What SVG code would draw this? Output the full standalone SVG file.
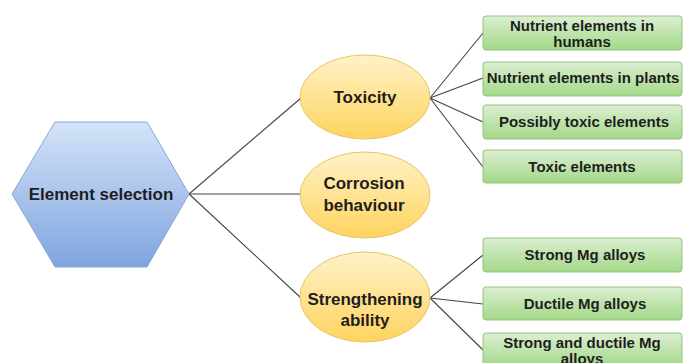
<svg xmlns="http://www.w3.org/2000/svg" width="685" height="363" viewBox="0 0 685 363">
<defs>
<linearGradient id="gHex" x1="0" y1="0" x2="0" y2="1">
<stop offset="0" stop-color="#d4e3f8"/>
<stop offset="1" stop-color="#7fa5df"/>
</linearGradient>
<linearGradient id="gEll" x1="0" y1="0" x2="0" y2="1">
<stop offset="0" stop-color="#fff2c8"/>
<stop offset="1" stop-color="#ffd45e"/>
</linearGradient>
<linearGradient id="gBox" x1="0" y1="0" x2="0" y2="1">
<stop offset="0" stop-color="#dcefd2"/>
<stop offset="1" stop-color="#a3d888"/>
</linearGradient>
</defs>
<style>
.hex{fill:url(#gHex);stroke:#8aa7d3;stroke-width:1}
.ell{fill:url(#gEll);stroke:#e3c56a;stroke-width:1}
.box{fill:url(#gBox);stroke:#93c37a;stroke-width:1}
.t{font-family:"Liberation Sans",Arial,sans-serif;font-weight:bold;fill:#1e1e1e;text-anchor:middle}
.big{font-size:17px}
.sm{font-size:15px}
.conn line{stroke:#444;stroke-width:1.1}
</style>
<g id="connectors" class="conn">
<line x1="189" y1="194" x2="301" y2="98"/>
<line x1="189" y1="194" x2="301" y2="194"/>
<line x1="189" y1="194" x2="301" y2="298"/>
<line x1="430" y1="98" x2="483" y2="33"/>
<line x1="430" y1="98" x2="483" y2="78"/>
<line x1="430" y1="98" x2="483" y2="122"/>
<line x1="430" y1="98" x2="483" y2="167"/>
<line x1="430" y1="298" x2="483" y2="255"/>
<line x1="430" y1="298" x2="483" y2="304"/>
<line x1="430" y1="298" x2="483" y2="350"/>
</g>
<g id="element-selection">
<polygon class="hex" points="12,194 55,122 147,122 189,194 147,267 55,267"/>
<text class="t big" x="101" y="200">Element selection</text>
</g>
<g id="toxicity">
<ellipse class="ell" cx="365" cy="97" rx="65" ry="42"/>
<text class="t big" x="365" y="103">Toxicity</text>
</g>
<g id="corrosion">
<ellipse class="ell" cx="365" cy="195" rx="65" ry="43"/>
<text class="t big" x="364" y="189">Corrosion</text>
<text class="t big" x="364" y="211">behaviour</text>
</g>
<g id="strengthening">
<ellipse class="ell" cx="365" cy="297" rx="65" ry="45"/>
<text class="t big" x="365" y="305">Strengthening</text>
<text class="t big" x="365" y="326">ability</text>
</g>
<g id="nutrient-humans">
<rect class="box" x="483" y="16" width="199" height="34" rx="3"/>
<text class="t sm" x="582" y="31">Nutrient elements in</text>
<text class="t sm" x="582" y="47">humans</text>
</g>
<g id="nutrient-plants">
<rect class="box" x="483" y="62" width="199" height="34" rx="3"/>
<text class="t sm" x="583" y="83">Nutrient elements in plants</text>
</g>
<g id="possibly-toxic">
<rect class="box" x="483" y="105" width="199" height="34" rx="3"/>
<text class="t sm" x="584" y="127">Possibly toxic elements</text>
</g>
<g id="toxic">
<rect class="box" x="483" y="150" width="199" height="33" rx="3"/>
<text class="t sm" x="582" y="172">Toxic elements</text>
</g>
<g id="strong">
<rect class="box" x="483" y="238" width="199" height="34" rx="3"/>
<text class="t sm" x="585" y="260">Strong Mg alloys</text>
</g>
<g id="ductile">
<rect class="box" x="483" y="287" width="199" height="33" rx="3"/>
<text class="t sm" x="585" y="309">Ductile Mg alloys</text>
</g>
<g id="strong-ductile">
<rect class="box" x="483" y="333" width="199" height="34" rx="3"/>
<text class="t sm" x="582" y="348">Strong and ductile Mg</text>
<text class="t sm" x="582" y="364">alloys</text>
</g>
</svg>
